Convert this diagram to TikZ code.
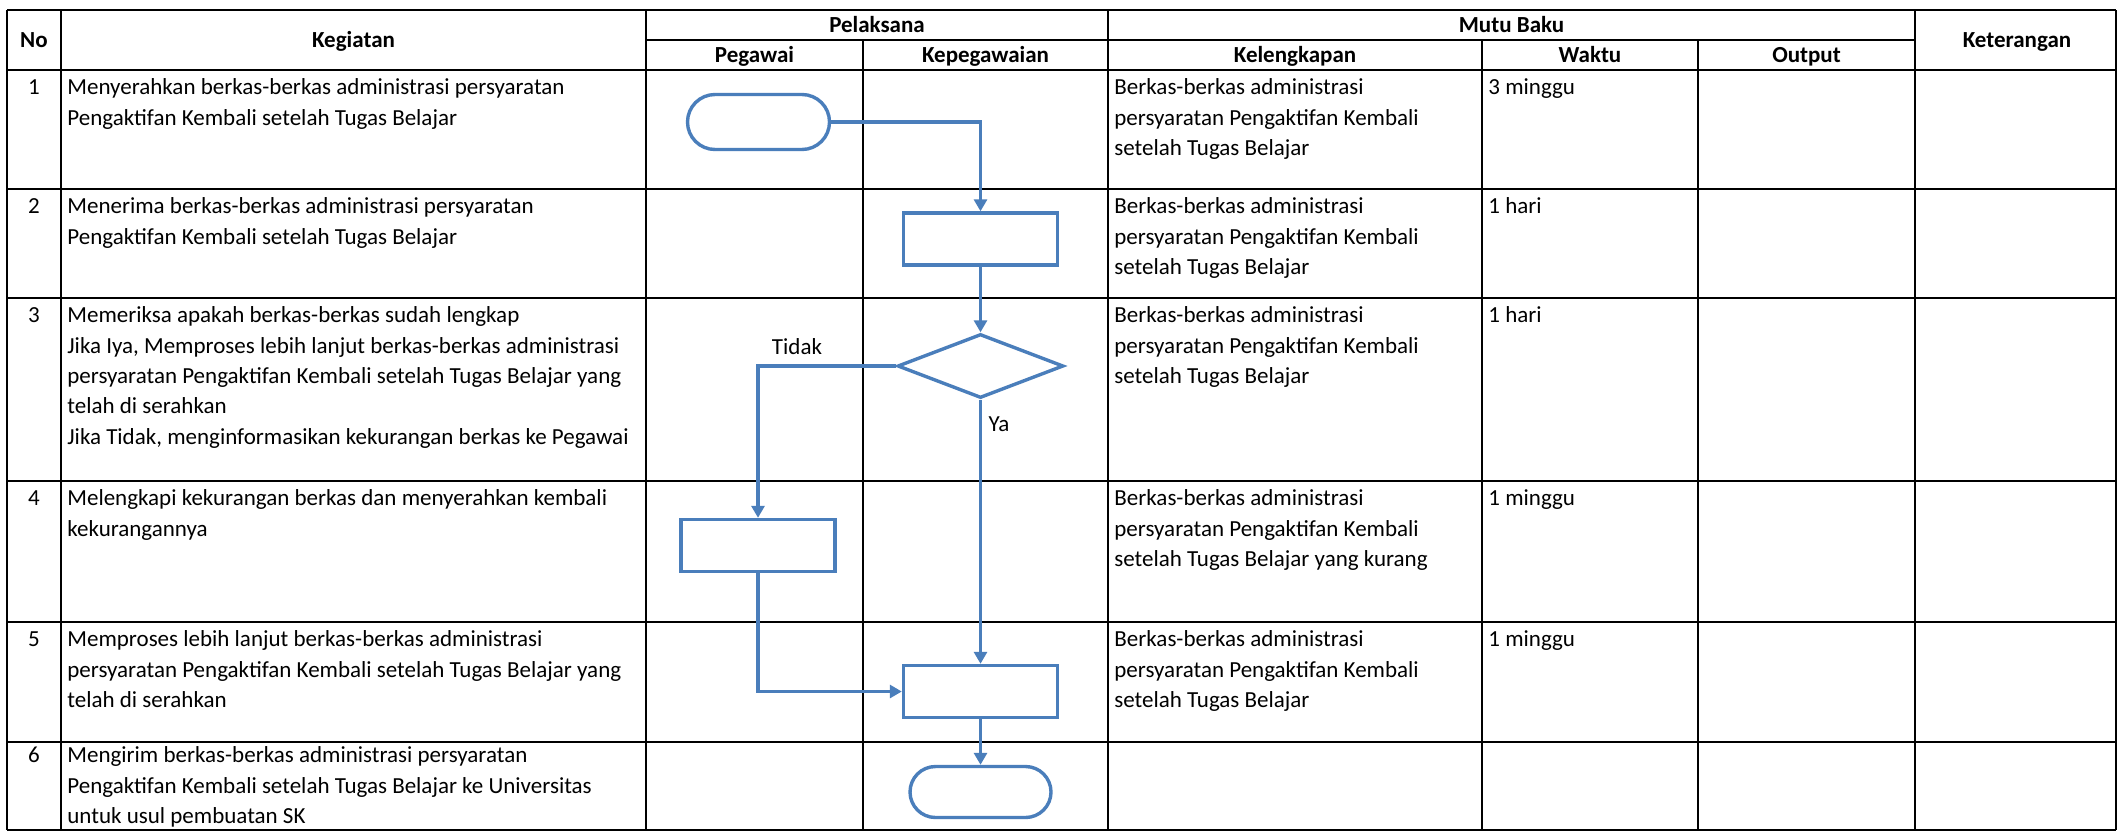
\documentclass[tikz,border=0pt]{standalone}
\usepackage{fontspec}
\setmainfont{Carlito}
\usetikzlibrary{arrows.meta,shapes.geometric}
\definecolor{flowblue}{HTML}{4A7EBB}
\newcommand{\sx}{\rule{0pt}{8pt}}
\begin{document}
\begin{tikzpicture}[x=0.5pt,y=-0.5pt,
  gridline/.style={line width=1.1pt, black},
  hd/.style={font=\bfseries\fontsize{11.5}{15.15}\selectfont, inner sep=0pt, anchor=base},
  cell/.style={font=\fontsize{11.5}{15.15}\selectfont, inner sep=0pt, anchor=north west, align=left},
  num/.style={font=\fontsize{11.5}{15.15}\selectfont, inner sep=0pt, anchor=north},
  lbl/.style={font=\fontsize{11.5}{15.15}\selectfont, inner sep=0pt},
  shapeline/.style={draw=flowblue, line width=1.7pt, fill=white, inner sep=0pt},
  term/.style={shapeline, rectangle, minimum width=71pt, minimum height=27.5pt, rounded corners=13.75pt},
  term2/.style={shapeline, rectangle, minimum width=70.5pt, minimum height=25.5pt, rounded corners=12.75pt},
  proc/.style={shapeline, rectangle, minimum width=77pt, minimum height=26pt},
  dec/.style={shapeline, diamond, minimum width=83pt, minimum height=32pt},
  flow/.style={draw=flowblue, line width=1.7pt, -{Triangle[length=6pt,width=6.5pt]}}
]
\useasboundingbox (0,0) rectangle (2118,831);
\fill[white] (0,0) rectangle (2118,831);

% grid
\foreach \y in {10,70,189,298,481,622,742,830} \draw[gridline] (7,\y) -- (2116,\y);
\draw[gridline] (646,40) -- (1915,40);
\foreach \x in {7,61,646,1108,1915,2116} \draw[gridline] (\x,10) -- (\x,830);
\foreach \x in {863,1482,1698} \draw[gridline] (\x,40) -- (\x,830);

% headers
\node[hd] (hNo) at (34,47.5) {No};
\node[hd] (hKeg) at (353.5,47.5) {Kegiatan};
\node[hd] (hPel) at (877,32.5) {Pelaksana};
\node[hd] (hPeg) at (754.5,62.5) {Pegawai};
\node[hd] (hKep) at (985.5,62.5) {Kepegawaian};
\node[hd] (hMutu) at (1511.5,32.5) {Mutu Baku};
\node[hd] (hKel) at (1295,62.5) {Kelengkapan};
\node[hd] (hWak) at (1590,62.5) {Waktu};
\node[hd] (hOut) at (1806.5,62.5) {Output};
\node[hd] (hKet) at (2017,47.5) {Keterangan};

% numbers
\node[num] (n1) at (34,78.5) {\sx 1};
\node[num] (n2) at (34,197.5) {\sx 2};
\node[num] (n3) at (34,306.5) {\sx 3};
\node[num] (n4) at (34,489.5) {\sx 4};
\node[num] (n5) at (34,630.5) {\sx 5};
\node[num] (n6) at (34,746.5) {\sx 6};

% kegiatan
\node[cell] (k1) at (67,78.5) {\sx Menyerahkan berkas-berkas administrasi persyaratan\\Pengaktifan Kembali setelah Tugas Belajar};
\node[cell] (k2) at (67,197.5) {\sx Menerima berkas-berkas administrasi persyaratan\\Pengaktifan Kembali setelah Tugas Belajar};
\node[cell] (k3) at (67,306.5) {\sx Memeriksa apakah berkas-berkas sudah lengkap\\Jika Iya, Memproses lebih lanjut berkas-berkas administrasi\\persyaratan Pengaktifan Kembali setelah Tugas Belajar yang\\telah di serahkan\\Jika Tidak, menginformasikan kekurangan berkas ke Pegawai};
\node[cell] (k4) at (67,489.5) {\sx Melengkapi kekurangan berkas dan menyerahkan kembali\\kekurangannya};
\node[cell] (k5) at (67,630.5) {\sx Memproses lebih lanjut berkas-berkas administrasi\\persyaratan Pengaktifan Kembali setelah Tugas Belajar yang\\telah di serahkan};
\node[cell] (k6) at (67,746.5) {\sx Mengirim berkas-berkas administrasi persyaratan\\Pengaktifan Kembali setelah Tugas Belajar ke Universitas\\untuk usul pembuatan SK};

% kelengkapan
\node[cell] (l1) at (1114,78.5) {\sx Berkas-berkas administrasi\\persyaratan Pengaktifan Kembali\\setelah Tugas Belajar};
\node[cell] (l2) at (1114,197.5) {\sx Berkas-berkas administrasi\\persyaratan Pengaktifan Kembali\\setelah Tugas Belajar};
\node[cell] (l3) at (1114,306.5) {\sx Berkas-berkas administrasi\\persyaratan Pengaktifan Kembali\\setelah Tugas Belajar};
\node[cell] (l4) at (1114,489.5) {\sx Berkas-berkas administrasi\\persyaratan Pengaktifan Kembali\\setelah Tugas Belajar yang kurang};
\node[cell] (l5) at (1114,630.5) {\sx Berkas-berkas administrasi\\persyaratan Pengaktifan Kembali\\setelah Tugas Belajar};

% waktu
\node[cell] (w1) at (1488,78.5) {\sx 3 minggu};
\node[cell] (w2) at (1488,197.5) {\sx 1 hari};
\node[cell] (w3) at (1488,306.5) {\sx 1 hari};
\node[cell] (w4) at (1488,489.5) {\sx 1 minggu};
\node[cell] (w5) at (1488,630.5) {\sx 1 minggu};

% flowchart
\node[term] (t1) at (758.5,122) {};
\node[proc] (r2) at (980.5,239) {};
\node[dec] (d3) at (980.5,366) {};
\node[proc] (r4) at (758,545.5) {};
\node[proc] (r5) at (980.5,691.5) {};
\node[term2] (t6) at (980.5,792) {};

\draw[flow] (t1.east) -| (r2.north);
\draw[flow] (r2.south) -- (d3.north);
\draw[flow] (d3.west) -| (r4.north);
\draw[flow] (d3.south) -- (r5.north);
\draw[flow] (r4.south) |- (r5.west);
\draw[flow] (r5.south) -- (t6.north);

\node[lbl] (lTidak) at (797,347) {Tidak};
\node[lbl] (lYa) at (999,424) {Ya};
\end{tikzpicture}
\end{document}
